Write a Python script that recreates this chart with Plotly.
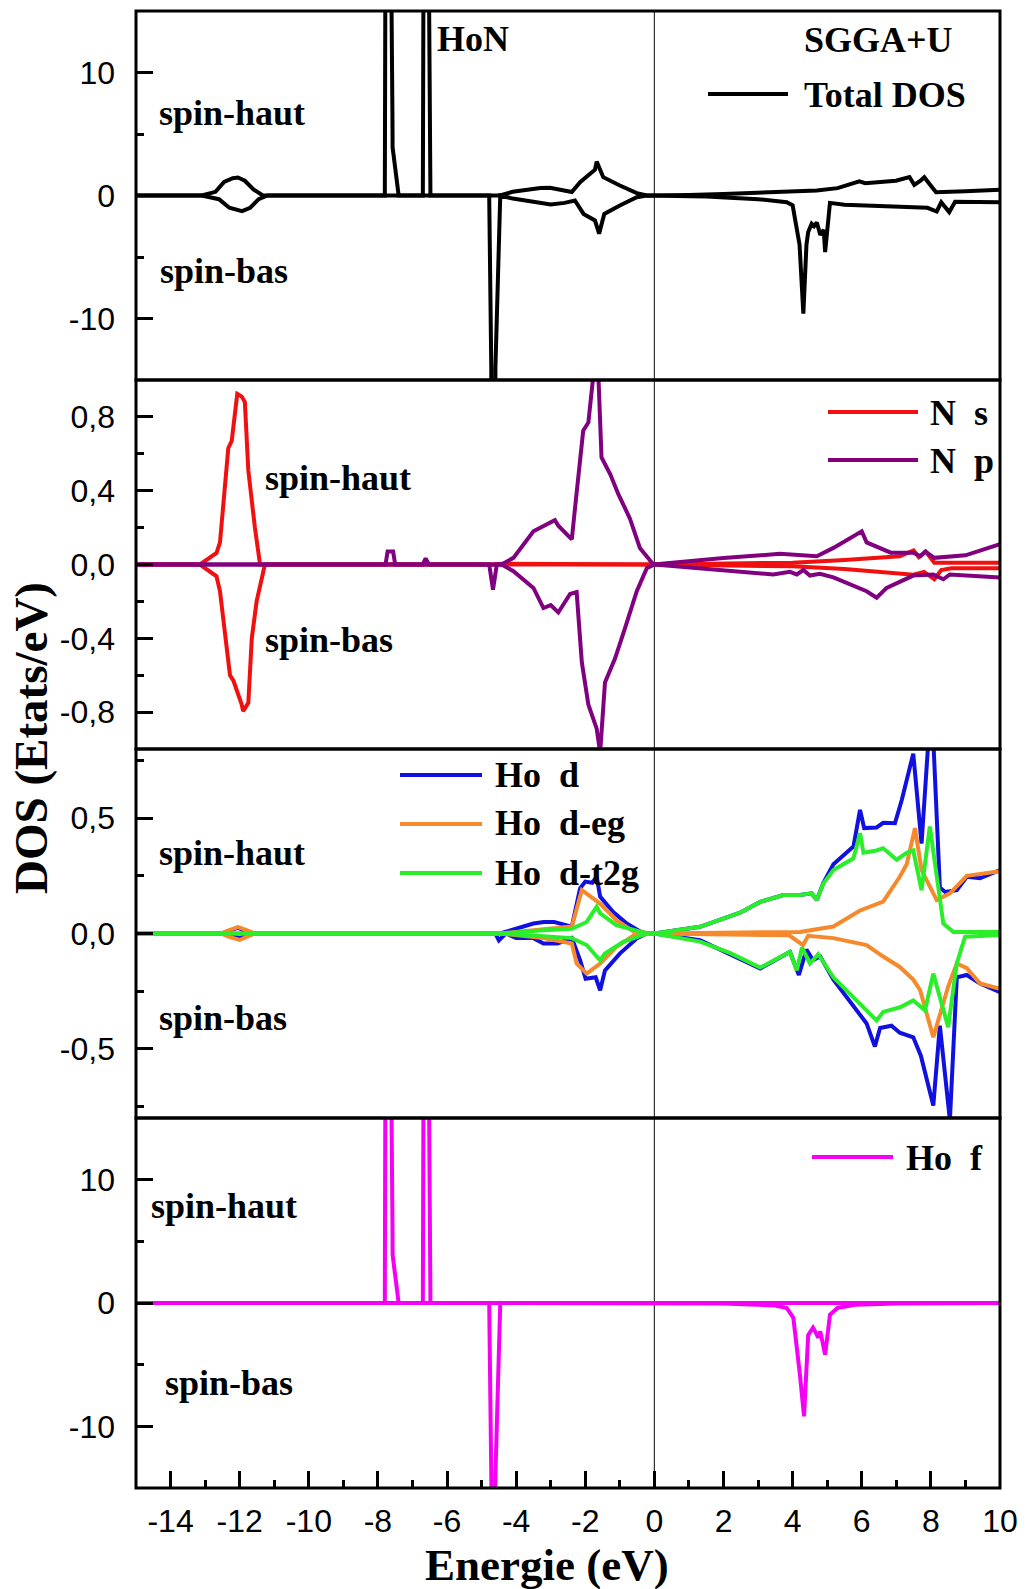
import plotly.graph_objects as go

# ---------------- data (energy in eV, DOS in states/eV) ----------------
# Total DOS
tot_up_e = [-15, -13.1, -12.7, -12.45, -12.2, -12.05, -11.85, -11.6, -11.33,
            -7.80, -7.765, -7.68, -7.58, -7.575, -7.40, -6.70, -6.66, -6.58, -6.48,
            -4.47, -4.1, -3.7, -3.3, -3.02, -2.7, -2.39, -2.15, -1.86, -1.72, -1.67,
            -1.55, -1.48, -1.0, -0.51, -0.22, 0,
            1.0, 2.0, 3.0, 4.0, 4.7, 5.3, 5.93, 6.1, 6.99, 7.38, 7.52, 7.7, 7.81,
            8.0, 8.15, 9.0, 10]
tot_up = [0, 0, 0.3, 1.1, 1.4, 1.46, 1.2, 0.5, 0,
          0, 40, 40, 6.6, 3.9, 0, 0, 40, 40, 0,
          0, 0.3, 0.46, 0.6, 0.62, 0.45, 0.28, 1.08, 1.76, 2.1, 2.76,
          1.9, 1.49, 0.81, 0.19, 0.0, 0,
          0.05, 0.12, 0.22, 0.32, 0.40, 0.6, 1.16, 1.0, 1.2, 1.5, 0.86, 1.2, 1.49,
          0.8, 0.27, 0.35, 0.46]

tot_dn_e = [-15, -13.1, -12.6, -12.3, -11.93, -11.7, -11.45, -11.2,
            -4.78, -4.72, -4.70, -4.62, -4.60, -4.46, -4.1, -3.5, -3.0, -2.6, -2.3,
            -2.05, -1.72, -1.60, -1.45, -1.0, -0.51, -0.22, 0,
            1.5, 3.0, 3.83, 4.0, 4.2, 4.31, 4.40, 4.45, 4.55, 4.62, 4.70, 4.80,
            4.90, 4.94, 5.08, 5.5, 6.0, 7.0, 7.4, 7.9, 8.17, 8.3, 8.53, 8.7, 10]
tot_dn = [0, 0, -0.3, -1.0, -1.27, -1.0, -0.3, 0,
          0, -14, -40, -40, -14, 0, -0.25, -0.54, -0.73, -0.6, -0.41,
          -1.5, -2.03, -3.1, -1.5, -0.81, -0.14, 0, 0,
          -0.08, -0.3, -0.54, -0.8, -4.0, -9.6, -4.0, -2.97, -2.3, -2.5, -2.2, -3.2,
          -2.8, -4.6, -0.6, -0.75, -0.8, -0.85, -0.95, -1.0, -1.3, -0.55, -1.35,
          -0.5, -0.55]

# N s
ns_up_e = [-15, -13.15, -12.67, -12.57, -12.33, -12.23, -12.07, -11.94, -11.85,
           -11.75, -11.56, -11.41, -4.6, -4.4, 0, 4.0, 5.5, 7.1, 7.5, 7.65, 7.85,
           8.1, 10]
ns_up = [0, 0, 0.063, 0.12, 0.63, 0.67, 0.925, 0.91, 0.88,
         0.51, 0.2, 0, 0, 0.004, 0, 0.01, 0.025, 0.045, 0.076, 0.04, 0.07,
         0.01, 0.01]
ns_dn_e = [-15, -13.15, -12.67, -12.57, -12.28, -12.18, -11.94, -11.9, -11.75,
           -11.65, -11.51, -11.27, 0, 4.0, 5.5, 7.1, 7.5, 7.8, 8.1, 8.3, 8.6, 10]
ns_dn = [0, 0, -0.064, -0.145, -0.6, -0.63, -0.76, -0.795, -0.75,
         -0.4, -0.2, 0, 0, -0.01, -0.025, -0.045, -0.055, -0.04, -0.08, -0.03,
         -0.02, -0.02]

# N p
np_up_e = [-15, -7.78, -7.72, -7.56, -7.50, -6.70, -6.62, -6.52, -4.42, -4.08,
           -3.50, -3.21, -2.88, -2.78, -2.39, -2.30, -2.06, -1.91, -1.77, -1.62,
           -1.53, -1.28, -1.04, -0.71, -0.42, -0.03,
           1.0, 2.0, 3.63, 4.70, 5.18, 6.0, 6.14, 6.84, 7.49, 7.7, 7.84, 8.1,
           9.0, 10]
np_up = [0, 0, 0.07, 0.07, 0, 0, 0.033, 0, 0, 0.036,
         0.18, 0.21, 0.24, 0.21, 0.136, 0.30, 0.725, 0.77, 1.02, 1.02,
         0.58, 0.49, 0.38, 0.25, 0.09, 0,
         0.02, 0.035, 0.058, 0.045, 0.09, 0.18, 0.12, 0.064, 0.064, 0.045, 0.07,
         0.036, 0.05, 0.11]
np_dn_e = [-15, -4.78, -4.67, -4.56, -4.42, -4.08, -3.50, -3.21, -3.0, -2.88,
           -2.78, -2.44, -2.25, -2.10, -1.91, -1.67, -1.57, -1.43, -1.14, -0.85,
           -0.51, -0.22, 0,
           3.44, 3.92, 4.12, 4.31, 4.50, 4.79, 5.18, 6.14, 6.43, 6.72, 7.49, 8.07,
           8.36, 8.55, 10]
np_dn = [0, 0, -0.136, 0, 0, -0.036, -0.127, -0.236, -0.22, -0.24,
         -0.26, -0.16, -0.15, -0.53, -0.76, -0.89, -1.02, -0.64, -0.51, -0.345,
         -0.145, -0.02, 0,
         -0.054, -0.04, -0.054, -0.03, -0.06, -0.05, -0.07, -0.145, -0.18, -0.127,
         -0.06, -0.054, -0.08, -0.054, -0.07]

# Ho d
hod_up_e = [-15, -12.5, -12.05, -11.7, -4.47, -4.0, -3.50, -3.2, -2.9, -2.39,
            -2.15, -2.0, -1.8, -1.67, -1.57, -1.2, -0.8, -0.4, -0.22, 0,
            1.32, 2.48, 3.06, 3.73, 4.21, 4.55, 4.70, 4.89, 5.18, 5.76, 5.95, 6.07,
            6.43, 6.62, 6.96, 7.16, 7.30, 7.49, 7.73, 7.93, 8.07, 8.26, 8.41, 8.75,
            9.04, 9.42, 10]
hod_up = [0, 0, 0.025, 0, 0, 0.02, 0.043, 0.05, 0.05, 0.03,
          0.196, 0.225, 0.22, 0.246, 0.16, 0.094, 0.043, 0.008, 0, 0,
          0.029, 0.09, 0.137, 0.167, 0.167, 0.174, 0.145, 0.22, 0.30, 0.377, 0.536,
          0.457, 0.46, 0.48, 0.478, 0.58, 0.667, 0.78, 0.39, 0.84, 0.84, 0.2, 0.18,
          0.188, 0.246, 0.24, 0.275]
hod_dn_e = [-15, -12.4, -12.0, -11.7, -4.6, -4.5, -4.3, -4.0, -3.50, -3.21,
            -2.8, -2.39, -2.15, -1.99, -1.7, -1.57, -1.43, -1.0, -0.5, -0.22, 0,
            1.32, 3.06, 3.92, 4.18, 4.31, 4.40, 4.59, 4.80, 5.18, 5.76, 6.14, 6.38,
            6.53, 6.86, 7.1, 7.49, 7.71, 8.07, 8.26, 8.55, 8.75, 9.04, 9.42, 10]
hod_dn = [0, 0, -0.02, 0, 0, -0.03, 0, -0.02, -0.02, -0.043,
          -0.043, -0.02, -0.116, -0.196, -0.19, -0.246, -0.16, -0.087, -0.02, 0, 0,
          -0.029, -0.152, -0.08, -0.18, -0.116, -0.07, -0.116, -0.10, -0.2, -0.316,
          -0.39, -0.49, -0.41, -0.40, -0.43, -0.45, -0.53, -0.746, -0.40, -0.81,
          -0.19, -0.18, -0.217, -0.254]

# Ho d-eg
hoeg_up_e = [-15, -12.55, -12.3, -12.05, -11.8, -11.55, -4.47, -3.5, -2.39, -2.10,
             -1.86, -1.57, -1.1, -0.6, 0,
             4.21, 5.18, 5.95, 6.62, 7.1, 7.30, 7.54, 7.73, 7.97, 8.17, 8.55, 9.04, 10]
hoeg_up = [0, 0, 0.015, 0.028, 0.015, 0, 0, 0.015, 0.03, 0.188,
           0.16, 0.13, 0.058, 0.008, 0,
           0.007, 0.03, 0.10, 0.138, 0.246, 0.30, 0.457, 0.275, 0.2, 0.145, 0.174,
           0.25, 0.27]
hoeg_dn_e = [-15, -12.55, -12.3, -12.0, -11.8, -11.55, -4.47, -3.21, -2.39, -2.25,
             -1.96, -1.57, -1.1, -0.6, 0,
             3.9, 4.3, 4.45, 5.18, 6.14, 6.62, 7.1, 7.49, 7.69, 8.07, 8.26, 8.5,
             8.75, 9.04, 9.42, 10]
hoeg_dn = [0, 0, -0.015, -0.028, -0.015, 0, 0, -0.02, -0.043, -0.13,
           -0.174, -0.13, -0.058, -0.008, 0,
           -0.008, -0.05, -0.01, -0.02, -0.05, -0.10, -0.145, -0.2, -0.246, -0.45,
           -0.35, -0.23, -0.13, -0.15, -0.217, -0.24]

# Ho d-t2g
hot2g_up_e = [-15, -4.47, -3.21, -2.39, -1.96, -1.67, -1.57, -1.1, -0.22, 0,
              1.32, 2.48, 3.06, 3.73, 4.21, 4.55, 4.70, 4.89, 5.18, 5.76, 5.95, 6.05,
              6.43, 6.62, 7.01, 7.30, 7.49, 7.73, 7.97, 8.17, 8.36, 8.65, 10]
hot2g_up = [0, 0, 0.014, 0.02, 0.05, 0.116, 0.087, 0.036, 0, 0,
            0.029, 0.09, 0.137, 0.167, 0.167, 0.174, 0.145, 0.217, 0.275, 0.326,
            0.435, 0.35, 0.36, 0.37, 0.32, 0.35, 0.36, 0.188, 0.464, 0.26, 0.043,
            0.007, 0.007]
hot2g_dn_e = [-15, -4.47, -3.21, -2.39, -1.96, -1.57, -1.43, -0.9, -0.22, 0,
              1.32, 2.2, 3.06, 3.92, 4.12, 4.27, 4.50, 4.74, 5.18, 5.76, 6.14, 6.43,
              6.62, 7.11, 7.49, 7.83, 8.07, 8.31, 8.50, 8.75, 8.99, 10]
hot2g_dn = [0, 0, -0.012, -0.02, -0.05, -0.116, -0.087, -0.036, 0, 0,
            -0.035, -0.085, -0.148, -0.08, -0.16, -0.06, -0.13, -0.09, -0.19,
            -0.275, -0.333, -0.377, -0.34, -0.32, -0.29, -0.333, -0.174, -0.3,
            -0.406, -0.13, -0.014, -0.007]

# Ho f
hof_up_e = [-15, -7.80, -7.765, -7.68, -7.58, -7.575, -7.40, -6.70, -6.66, -6.58,
            -6.48, 10]
hof_up = [0, 0, 40, 40, 6.6, 3.9, 0, 0, 40, 40, 0, 0]
hof_dn_e = [-15, -4.78, -4.72, -4.70, -4.62, -4.60, -4.46, 2.0, 3.5, 3.83, 4.02,
            4.21, 4.33, 4.45, 4.59, 4.67, 4.74, 4.80, 4.94, 5.08, 5.3, 5.8, 7.0, 10]
hof_dn = [0, 0, -14, -40, -40, -14, 0, -0.05, -0.2, -0.4, -1.2,
          -5.8, -9.19, -2.6, -2.0, -2.4, -2.8, -2.3, -4.19, -0.95, -0.4, -0.15,
          -0.05, 0]

# tick labels
x_tickvals = [-14, -12, -10, -8, -6, -4, -2, 0, 2, 4, 6, 8, 10]
x_ticktext = ["-14", "-12", "-10", "-8", "-6", "-4", "-2", "0", "2", "4", "6", "8", "10"]
big_tickvals = [-10, 0, 10]
big_ticktext = ["-10", "0", "10"]
np_tickvals = [-0.8, -0.4, 0.0, 0.4, 0.8]
np_ticktext = ["-0,8", "-0,4", "0,0", "0,4", "0,8"]
d_tickvals = [-0.5, 0.0, 0.5]
d_ticktext = ["-0,5", "0,0", "0,5"]

# ---------------- figure ----------------
W, H = 1030, 1589
ML, MR, MT, MB = 136, 30, 11, 101
PW, PH = W - ML - MR, H - MT - MB


def xp(px):
    return (px - ML) / PW


def yp(py):
    return (H - MB - py) / PH


BLACK = "#000000"
RED = "#F01010"
PURPLE = "#800080"
BLUE = "#1010E0"
ORANGE = "#F5892C"
GREEN = "#2AEE2A"
MAGENTA = "#F500F5"
LW = 4

fig = go.Figure()


def add(e, v, color, yaxis):
    fig.add_trace(go.Scatter(x=e, y=v, mode="lines", yaxis=yaxis, xaxis="x",
                             line=dict(color=color, width=LW), showlegend=False,
                             hoverinfo="skip"))


add(tot_up_e, tot_up, BLACK, "y")
add(tot_dn_e, tot_dn, BLACK, "y")
add(ns_up_e, ns_up, RED, "y2")
add(ns_dn_e, ns_dn, RED, "y2")
add(np_up_e, np_up, PURPLE, "y2")
add(np_dn_e, np_dn, PURPLE, "y2")
add(hod_up_e, hod_up, BLUE, "y3")
add(hod_dn_e, hod_dn, BLUE, "y3")
add(hoeg_up_e, hoeg_up, ORANGE, "y3")
add(hoeg_dn_e, hoeg_dn, ORANGE, "y3")
add(hot2g_up_e, hot2g_up, GREEN, "y3")
add(hot2g_dn_e, hot2g_dn, GREEN, "y3")
add(hof_up_e, hof_up, MAGENTA, "y4")
add(hof_dn_e, hof_dn, MAGENTA, "y4")

tick_font = dict(family="Liberation Sans, Arial, sans-serif", size=32, color=BLACK)


def yaxis(domain, rng, tv, tt, minor_vals):
    return dict(domain=domain, range=rng, anchor="x", showgrid=False, zeroline=False,
                showline=False, ticks="inside", ticklen=17, tickwidth=3,
                tickcolor=BLACK, tickmode="array", tickvals=tv, ticktext=tt,
                tickfont=tick_font, ticklabelstandoff=20,
                minor=dict(ticks="inside", ticklen=8, tickwidth=3, tickcolor=BLACK,
                           tickmode="array", tickvals=minor_vals, showgrid=False))


d1 = [yp(380), 1.0]
d2 = [yp(749), yp(380)]
d3 = [yp(1118), yp(749)]
d4 = [0.0, yp(1118)]

fig.update_layout(
    width=W, height=H,
    margin=dict(l=ML, r=MR, t=MT, b=MB, pad=0),
    paper_bgcolor="white", plot_bgcolor="white",
    showlegend=False,
    xaxis=dict(range=[-15, 10], anchor="y4", showgrid=False, zeroline=False,
               showline=False, ticks="inside", ticklen=17, tickwidth=3,
               tickcolor=BLACK, tickmode="array", tickvals=x_tickvals,
               ticktext=x_ticktext, tickfont=tick_font, ticklabelstandoff=11,
               minor=dict(ticks="inside", ticklen=8, tickwidth=3, tickcolor=BLACK,
                          tickmode="array", tickvals=list(range(-13, 10, 2)),
                          showgrid=False)),
    yaxis=yaxis(d1, [-15, 15], big_tickvals, big_ticktext, [-5, 5]),
    yaxis2=yaxis(d2, [-1, 1], np_tickvals, np_ticktext, [-0.6, -0.2, 0.2, 0.6]),
    yaxis3=yaxis(d3, [-0.8, 0.8], d_tickvals, d_ticktext, [-0.75, -0.25, 0.25, 0.75]),
    yaxis4=yaxis(d4, [-15, 15], big_tickvals, big_ticktext, [-5, 5]),
)

shapes = []
# Fermi level
shapes.append(dict(type="line", xref="x", yref="paper", x0=0, x1=0, y0=0, y1=1,
                   line=dict(color="#333333", width=1.2), layer="below"))
# panel frames
for ax in ["y", "y2", "y3", "y4"]:
    shapes.append(dict(type="rect", xref="x domain", yref=ax + " domain",
                       x0=0, x1=1, y0=0, y1=1, line=dict(color=BLACK, width=3),
                       fillcolor="rgba(0,0,0,0)", layer="above"))

# legend keys
legend_keys = [
    (708, 788, 94, BLACK, "Total DOS", 802, 95),
    (828, 918, 412, RED, "N\u00a0\u00a0s", 928, 413),
    (828, 918, 460, PURPLE, "N\u00a0\u00a0p", 928, 461),
    (400, 482, 775, BLUE, "Ho\u00a0\u00a0d", 493, 775),
    (400, 482, 824, ORANGE, "Ho\u00a0\u00a0d-eg", 493, 823),
    (400, 482, 873, GREEN, "Ho\u00a0\u00a0d-t2g", 493, 873),
    (812, 893, 1157, MAGENTA, "Ho\u00a0\u00a0f", 904, 1158),
]
annotations = []
lab_font = dict(family="Liberation Serif, Times New Roman, serif", size=36, color=BLACK)
for x0, x1, yy, col, txt, tx, ty in legend_keys:
    shapes.append(dict(type="line", xref="paper", yref="paper", x0=xp(x0), x1=xp(x1),
                       y0=yp(yy), y1=yp(yy), line=dict(color=col, width=LW)))
    annotations.append(dict(text="<b>%s</b>" % txt, xref="paper", yref="paper",
                            x=xp(tx), y=yp(ty), xanchor="left", yanchor="middle",
                            showarrow=False, font=lab_font))

labels = [
    ("HoN", 435, 39), ("SGGA+U", 802, 40),
    ("spin-haut", 157, 113), ("spin-bas", 158, 271),
    ("spin-haut", 263, 478), ("spin-bas", 263, 640),
    ("spin-haut", 157, 853), ("spin-bas", 157, 1018),
    ("spin-haut", 149, 1206), ("spin-bas", 163, 1383),
]
for txt, tx, ty in labels:
    annotations.append(dict(text="<b>%s</b>" % txt, xref="paper", yref="paper",
                            x=xp(tx), y=yp(ty), xanchor="left", yanchor="middle",
                            showarrow=False, font=lab_font))

# axis titles
annotations.append(dict(text="<b>Energie (eV)</b>", xref="paper", yref="paper",
                        x=xp(547), y=yp(1565), xanchor="center", yanchor="middle",
                        showarrow=False,
                        font=dict(family="Liberation Serif, Times New Roman, serif",
                                  size=45, color=BLACK)))
annotations.append(dict(text="<b>DOS (Etats/eV)</b>", xref="paper", yref="paper",
                        x=xp(31), y=yp(738), xanchor="center", yanchor="middle",
                        textangle=-90, showarrow=False,
                        font=dict(family="Liberation Serif, Times New Roman, serif",
                                  size=47, color=BLACK)))

fig.update_layout(shapes=shapes, annotations=annotations)
fig.write_html("out.html")
